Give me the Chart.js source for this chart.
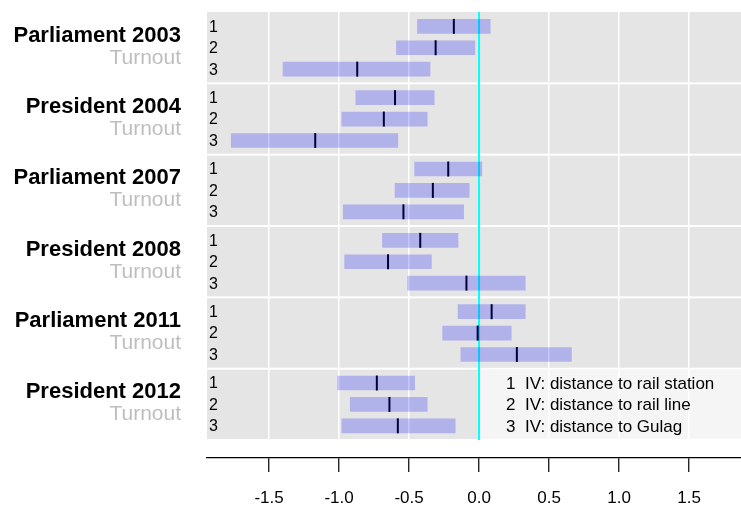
<!DOCTYPE html>
<html>
<head>
<meta charset="utf-8">
<script src="https://cdn.jsdelivr.net/npm/chart.js@4.4.1/dist/chart.umd.min.js"></script>
<style>
  body { margin: 0; background: #fff; }
  #wrap { width: 741px; height: 510px; }
</style>
</head>
<body>
<div id="wrap"><canvas id="ivChart" width="741" height="510"></canvas></div>
<script>
// Elections (one panel each) and the three instruments
const elections = ['Parliament 2003', 'President 2004', 'Parliament 2007',
                   'President 2008', 'Parliament 2011', 'President 2012'];
const ivLabels = ['IV: distance to rail station', 'IV: distance to rail line', 'IV: distance to Gulag'];
const xTicks = [-1.5, -1.0, -0.5, 0.0, 0.5, 1.0, 1.5];

// estimates, 3 per election (IV 1, 2, 3)
const estimate = [
  -0.18, -0.31, -0.87,
  -0.60, -0.68, -1.17,
  -0.22, -0.33, -0.54,
  -0.42, -0.65, -0.09,
   0.09, -0.01,  0.27,
  -0.73, -0.64, -0.58
];
const lower = [
  -0.44, -0.59, -1.40,
  -0.88, -0.98, -1.77,
  -0.46, -0.60, -0.97,
  -0.69, -0.96, -0.51,
  -0.15, -0.26, -0.13,
  -1.01, -0.92, -0.98
];
const upper = [
   0.08, -0.03, -0.35,
  -0.32, -0.37, -0.58,
   0.02, -0.07, -0.11,
  -0.15, -0.34,  0.33,
   0.33,  0.23,  0.66,
  -0.46, -0.37, -0.17
];

// vertical layout: each panel is 10/3 row units tall
const PANEL = 10 / 3;
function rowPos(i) {
  const p = Math.floor(i / 3), r = i % 3;
  return p * PANEL + 0.67 + r;
}

const bars = estimate.map((_, i) => ({ x: [lower[i], upper[i]], y: rowPos(i) }));
const marks = estimate.map((v, i) => ({ x: v, y: rowPos(i) }));

const panelPlugin = {
  id: 'panels',
  beforeDraw(chart) {
    const ctx = chart.ctx, area = chart.chartArea, ys = chart.scales.y;
    ctx.save();
    elections.forEach((name, p) => {
      const top = ys.getPixelForValue(p * PANEL);
      const bot = ys.getPixelForValue((p + 1) * PANEL);
      ctx.fillStyle = '#e5e5e5';
      ctx.fillRect(area.left, top + (p ? 1 : 0), area.right - area.left, bot - top - (p ? 1 : 0) - 1);
      // titles
      ctx.textAlign = 'right';
      ctx.textBaseline = 'alphabetic';
      ctx.fillStyle = '#000';
      ctx.font = 'bold 22px "Liberation Sans", Arial, sans-serif';
      ctx.fillText(name, 181, top + 29.5);
      ctx.fillStyle = '#bebebe';
      ctx.font = '21px "Liberation Sans", Arial, sans-serif';
      ctx.fillText('Turnout', 181, top + 51.5);
      // row numbers
      ctx.textAlign = 'left';
      ctx.textBaseline = 'middle';
      ctx.fillStyle = '#000';
      ctx.font = '16px "Liberation Sans", Arial, sans-serif';
      for (let r = 0; r < 3; r++) {
        ctx.fillText(String(r + 1), area.left + 2, ys.getPixelForValue(rowPos(p * 3 + r)) + 1);
      }
    });
    ctx.restore();
  },
  beforeDatasetsDraw(chart) {
    const ctx = chart.ctx, area = chart.chartArea, xs = chart.scales.x, ys = chart.scales.y;
    const last = elections.length - 1;
    const x0 = xs.getPixelForValue(0);
    const top = ys.getPixelForValue(last * PANEL) + 1;
    const bot = ys.getPixelForValue((last + 1) * PANEL) - 1;
    ctx.save();
    // legend box
    ctx.fillStyle = 'rgba(255,255,255,0.6)';
    ctx.fillRect(x0, top, area.right - x0, bot - top);
    // zero line
    ctx.strokeStyle = '#00ffff';
    ctx.lineWidth = 2;
    ctx.beginPath();
    ctx.moveTo(x0, ys.getPixelForValue(0));
    ctx.lineTo(x0, ys.getPixelForValue(elections.length * PANEL));
    ctx.stroke();
    ctx.restore();
  },
  afterDatasetsDraw(chart) {
    const ctx = chart.ctx, ys = chart.scales.y;
    const last = elections.length - 1;
    ctx.save();
    ctx.fillStyle = '#000';
    ctx.font = '17px "Liberation Sans", Arial, sans-serif';
    ctx.textBaseline = 'middle';
    ivLabels.forEach((lab, r) => {
      const y = ys.getPixelForValue(rowPos(last * 3 + r)) + 1;
      ctx.textAlign = 'left';
      ctx.fillText(String(r + 1), 506, y);
      ctx.fillText(lab, 525, y);
    });
    ctx.restore();
  }
};

const ctx = document.getElementById('ivChart').getContext('2d');
const myChart = new Chart(ctx, {
  type: 'bar',
  data: {
    datasets: [{
      type: 'bar',
      indexAxis: 'y',
      data: bars,
      backgroundColor: 'rgba(0,0,255,0.22)',
      borderWidth: 0,
      barThickness: 14
    }, {
      type: 'scatter',
      data: marks,
      pointStyle: 'line',
      rotation: 90,
      radius: 7.5,
      borderWidth: 2,
      borderColor: '#000',
      backgroundColor: '#000'
    }]
  },
  options: {
    responsive: false,
    animation: false,
    events: [],
    indexAxis: 'y',
    layout: { autoPadding: false, padding: { left: 207, right: 0, top: 12, bottom: -14.4 } },
    plugins: { legend: { display: false }, tooltip: { enabled: false } },
    scales: {
      x: {
        type: 'linear',
        position: 'bottom',
        min: -1.943,
        max: 1.871,
        afterBuildTicks(axis) { axis.ticks = xTicks.map(v => ({ value: v })); },
        grid: { color: '#ffffff', lineWidth: 1.5, tickColor: '#000', tickLength: 14, tickWidth: 1.2 },
        border: { display: true, color: '#000', width: 1.2 },
        ticks: {
          color: '#000',
          padding: 16,
          maxRotation: 0,
          font: { family: '"Liberation Sans", Arial, sans-serif', size: 17 },
          callback: v => Number(v).toFixed(1)
        }
      },
      y: {
        type: 'linear',
        reverse: true,
        offset: false,
        grid: { offset: false },
        min: 0,
        max: 20.84,
        display: false
      }
    }
  },
  plugins: [panelPlugin]
});
</script>
</body>
</html>
